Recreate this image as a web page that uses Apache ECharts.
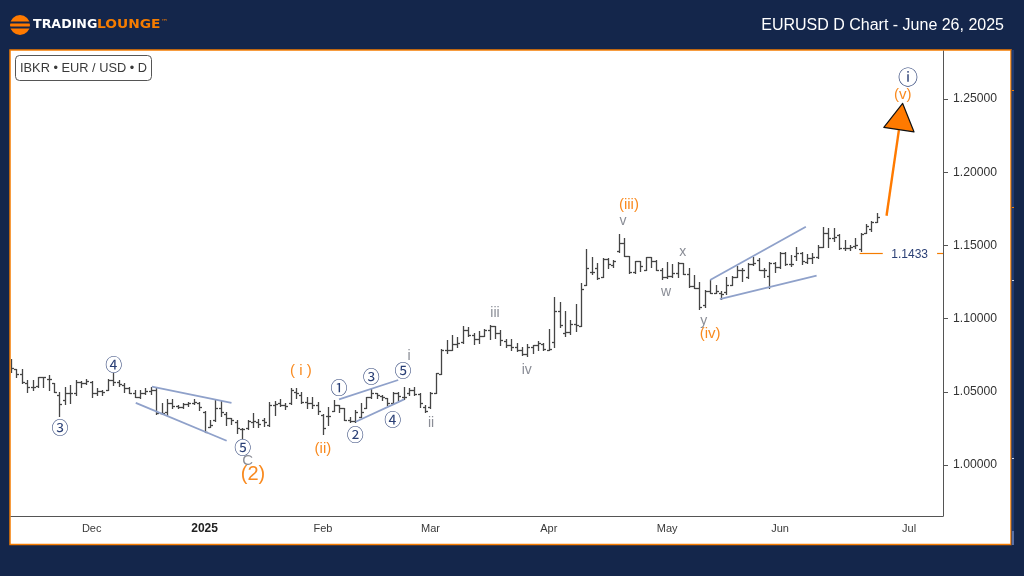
<!DOCTYPE html>
<html><head><meta charset="utf-8">
<style>html,body{margin:0;padding:0;background:#14264b}#c{width:1024px;height:576px}</style>
<script src="https://cdn.jsdelivr.net/npm/echarts@6/dist/echarts.min.js"></script>
</head><body><div id="c"></div>
<script>
const title = 'EURUSD D Chart - June 26, 2025';
const symbolText = 'IBKR • EUR / USD • D';
const yTicks = [1.0, 1.05, 1.1, 1.15, 1.2, 1.25];
const xTickIndex = [15, 36, 58, 78, 100, 122, 143, 167];
const xTickLabels = ['Dec', '2025', 'Feb', 'Mar', 'Apr', 'May', 'Jun', 'Jul'];

const opens = [1.0717,1.0653,1.0621,1.0562,1.0530,1.0539,1.0598,1.0591,1.0557,1.0477,
1.0443,1.0493,1.0493,1.0568,1.0557,1.0568,1.0493,1.0507,1.0516,1.0584,
1.0564,1.0546,1.0523,1.0495,1.0466,1.0493,1.0507,1.0511,1.0353,1.0360,
1.0421,1.0405,1.0398,1.0414,1.0421,1.0421,1.0359,1.0262,1.0307,1.0392,
1.0346,1.0323,1.0291,1.0246,1.0250,1.0296,1.0296,1.0307,1.0273,1.0410,
1.0421,1.0410,1.0421,1.0497,1.0478,1.0432,1.0425,1.0409,1.0341,1.0334,
1.0371,1.0409,1.0387,1.0307,1.0302,1.0330,1.0387,1.0462,1.0489,1.0471,
1.0455,1.0421,1.0494,1.0462,1.0489,1.0512,1.0485,1.0398,1.0398,1.0489,
1.0625,1.0785,1.0789,1.0830,1.0842,1.0921,1.0887,1.0858,1.0880,1.0921,
1.0949,1.0899,1.0848,1.0819,1.0803,1.0789,1.0757,1.0807,1.0819,1.0830,
1.0789,1.0842,1.1054,1.0899,1.0910,1.0962,1.0949,1.1233,1.1320,1.1347,
1.1286,1.1406,1.1365,1.1461,1.1514,1.1429,1.1320,1.1393,1.1331,1.1422,
1.1393,1.1331,1.1286,1.1292,1.1315,1.1377,1.1302,1.1224,1.1210,1.1092,
1.1188,1.1176,1.1172,1.1179,1.1233,1.1286,1.1331,1.1286,1.1370,1.1400,
1.1331,1.1293,1.1377,1.1354,1.1445,1.1370,1.1429,1.1445,1.1388,1.1416,
1.1423,1.1491,1.1582,1.1553,1.1571,1.1484,1.1484,1.1498,1.1475,1.1582,
1.1612,1.1662];
const highs = [1.0721,1.0653,1.0653,1.0584,1.0584,1.0603,1.0603,1.0614,1.0557,1.0500,
1.0534,1.0546,1.0584,1.0575,1.0591,1.0575,1.0523,1.0516,1.0591,1.0630,
1.0580,1.0557,1.0534,1.0516,1.0516,1.0523,1.0534,1.0530,1.0421,1.0451,
1.0451,1.0410,1.0421,1.0433,1.0451,1.0428,1.0369,1.0307,1.0444,1.0437,
1.0360,1.0323,1.0307,1.0255,1.0307,1.0353,1.0314,1.0319,1.0428,1.0437,
1.0451,1.0421,1.0524,1.0528,1.0501,1.0466,1.0466,1.0432,1.0348,1.0398,
1.0444,1.0409,1.0387,1.0325,1.0375,1.0421,1.0466,1.0517,1.0489,1.0478,
1.0455,1.0501,1.0501,1.0530,1.0523,1.0530,1.0489,1.0409,1.0501,1.0628,
1.0792,1.0853,1.0887,1.0876,1.0949,1.0940,1.0899,1.0917,1.0926,1.0956,
1.0949,1.0921,1.0858,1.0864,1.0835,1.0807,1.0826,1.0819,1.0848,1.0835,
1.0926,1.1145,1.1115,1.1054,1.0994,1.1099,1.1243,1.1475,1.1422,1.1377,
1.1411,1.1411,1.1400,1.1575,1.1548,1.1429,1.1393,1.1393,1.1422,1.1422,
1.1400,1.1347,1.1384,1.1370,1.1384,1.1377,1.1347,1.1297,1.1247,1.1194,
1.1263,1.1229,1.1188,1.1286,1.1293,1.1361,1.1343,1.1377,1.1423,1.1411,
1.1343,1.1384,1.1384,1.1452,1.1452,1.1434,1.1491,1.1452,1.1439,1.1445,
1.1502,1.1628,1.1616,1.1616,1.1575,1.1537,1.1502,1.1548,1.1582,1.1644,
1.1667,1.1719];
const lows = [1.0637,1.0603,1.0562,1.0500,1.0516,1.0534,1.0530,1.0511,1.0500,1.0336,
1.0420,1.0425,1.0477,1.0534,1.0552,1.0466,1.0477,1.0477,1.0511,1.0550,
1.0539,1.0500,1.0489,1.0466,1.0461,1.0484,1.0484,1.0352,1.0346,1.0341,
1.0387,1.0392,1.0387,1.0405,1.0414,1.0376,1.0223,1.0262,1.0300,1.0337,
1.0273,1.0278,1.0216,1.0182,1.0246,1.0262,1.0262,1.0268,1.0268,1.0341,
1.0405,1.0382,1.0414,1.0460,1.0421,1.0387,1.0387,1.0352,1.0211,1.0273,
1.0371,1.0364,1.0307,1.0295,1.0295,1.0325,1.0387,1.0455,1.0455,1.0444,
1.0409,1.0416,1.0444,1.0448,1.0478,1.0478,1.0398,1.0364,1.0387,1.0492,
1.0625,1.0766,1.0789,1.0807,1.0835,1.0880,1.0830,1.0835,1.0880,1.0864,
1.0871,1.0819,1.0803,1.0789,1.0780,1.0750,1.0744,1.0766,1.0785,1.0785,
1.0785,1.0807,1.0944,1.0880,1.0894,1.0917,1.0949,1.1233,1.1308,1.1270,
1.1286,1.1343,1.1354,1.1457,1.1429,1.1315,1.1315,1.1324,1.1331,1.1354,
1.1331,1.1274,1.1279,1.1286,1.1286,1.1302,1.1217,1.1206,1.1069,1.1080,
1.1172,1.1172,1.1133,1.1165,1.1233,1.1286,1.1256,1.1279,1.1366,1.1331,
1.1286,1.1211,1.1320,1.1347,1.1366,1.1361,1.1400,1.1370,1.1377,1.1377,
1.1411,1.1491,1.1491,1.1530,1.1475,1.1468,1.1468,1.1484,1.1461,1.1582,
1.1598,1.1662];
const closes = [1.0660,1.0621,1.0568,1.0530,1.0530,1.0598,1.0598,1.0591,1.0500,1.0416,
1.0493,1.0493,1.0568,1.0557,1.0575,1.0493,1.0507,1.0500,1.0584,1.0564,
1.0552,1.0523,1.0495,1.0466,1.0493,1.0507,1.0511,1.0356,1.0353,1.0421,
1.0405,1.0398,1.0414,1.0421,1.0433,1.0398,1.0228,1.0273,1.0392,1.0360,
1.0323,1.0307,1.0250,1.0246,1.0300,1.0300,1.0278,1.0296,1.0410,1.0414,
1.0410,1.0405,1.0512,1.0490,1.0432,1.0425,1.0409,1.0371,1.0250,1.0334,
1.0409,1.0387,1.0311,1.0302,1.0364,1.0364,1.0462,1.0494,1.0478,1.0462,
1.0425,1.0494,1.0471,1.0462,1.0512,1.0485,1.0421,1.0371,1.0489,1.0628,
1.0787,1.0789,1.0830,1.0835,1.0921,1.0887,1.0858,1.0880,1.0921,1.0949,
1.0899,1.0853,1.0819,1.0803,1.0789,1.0757,1.0807,1.0819,1.0835,1.0796,
1.0796,1.1054,1.0956,1.0910,1.0962,1.0956,1.1200,1.1343,1.1320,1.1279,
1.1406,1.1370,1.1393,1.1514,1.1429,1.1320,1.1393,1.1361,1.1422,1.1393,
1.1331,1.1286,1.1292,1.1315,1.1377,1.1302,1.1224,1.1210,1.1080,1.1188,
1.1176,1.1188,1.1165,1.1233,1.1286,1.1331,1.1331,1.1370,1.1377,1.1331,
1.1331,1.1377,1.1354,1.1445,1.1370,1.1370,1.1445,1.1393,1.1416,1.1423,
1.1491,1.1582,1.1553,1.1559,1.1484,1.1480,1.1491,1.1502,1.1575,1.1635,
1.1662,1.1696];

const NAVY = '#2a3f75', ORANGE = '#f98a1f', GREY = '#8a8d96';
// wave labels: text, bar index, price, colour, font size
const waveLabels = [
 ['③', 9.1, 1.0260, NAVY, 17], ['④', 19.1, 1.0690, NAVY, 17], ['⑤', 43.1, 1.0123, NAVY, 17],
 ['C', 44, 1.0034, GREY, 15], ['(2)', 45, 0.9939, ORANGE, 20],
 ['( i )', 53.9, 1.0649, ORANGE, 15], ['(ii)', 58, 1.0116, ORANGE, 15],
 ['①', 61, 1.0533, NAVY, 17], ['②', 64, 1.0212, NAVY, 17], ['③', 67, 1.0608, NAVY, 17],
 ['④', 71, 1.0321, NAVY, 17], ['⑤', 72.9, 1.0649, NAVY, 17],
 ['i', 74, 1.0751, GREY, 14], ['ii', 78.1, 1.0294, GREY, 14], ['iii', 90, 1.1045, GREY, 14], ['iv', 95.9, 1.0656, GREY, 14],
 ['(iii)', 114.9, 1.1783, ORANGE, 15], ['v', 113.8, 1.1673, GREY, 14],
 ['w', 121.8, 1.1188, GREY, 14], ['x', 124.9, 1.1462, GREY, 14], ['y', 128.8, 1.0990, GREY, 14],
 ['(iv)', 130, 1.0902, ORANGE, 15], ['(v)', 165.8, 1.2534, ORANGE, 15], ['ⓘ', 166.8, 1.2657, NAVY, 20]
];
// trend lines: index, price, index, price
const trendLines = [
 [26.2,1.0535,41.0,1.0425],[23.2,1.0425,40.1,1.0166],
 [61,1.0449,72,1.0581],[64.1,1.0296,73.1,1.0449],
 [130,1.1264,147.8,1.1628],[131.8,1.1134,149.8,1.1293]
];
const arrowShaft = [162.8,1.1703,165.1,1.2288];
const arrowHead = [[165.8,1.2470],[162.3,1.2306],[167.9,1.2276]];
const priceLevel = 1.1445, priceLevelText = '1.1433';
const priceSegments = [[157.8,162.1],[172.2,173.3]];
const priceLabelIndex = 167.1;
const FONT = '"Liberation Sans", Arial, sans-serif';
const BAR = '#454545';

const chart = echarts.init(document.getElementById('c'), null, {renderer:'canvas'});
const bars = opens.map((o,i)=>[i,o,highs[i],lows[i],closes[i]]);

chart.setOption({
 animation:false,
 backgroundColor:'#14264b',
 grid:{left:11,right:81,top:51,bottom:60,containLabel:false},
 xAxis:{type:'value',min:0,max:173.3,
  axisLine:{show:true,onZero:false,lineStyle:{color:'#555',width:1}},
  axisTick:{show:false},splitLine:{show:false},
  axisLabel:{customValues:xTickIndex,margin:7,fontFamily:FONT,fontSize:11,color:'#3a3a3a',
   formatter:v=>{const s=xTickLabels[xTickIndex.indexOf(v)];return s==='2025'?'{b|2025}':s;},
   rich:{b:{fontFamily:FONT,fontWeight:'bold',fontSize:12,color:'#222'}}}},
 yAxis:{type:'value',position:'right',min:0.9652,max:1.2828,scale:true,
  axisLine:{show:true,onZero:false,lineStyle:{color:'#555',width:1}},
  axisTick:{show:true,length:5,customValues:yTicks,lineStyle:{color:'#555'}},
  splitLine:{show:false},
  axisLabel:{customValues:yTicks,margin:10,padding:[3,0,0,0],fontFamily:FONT,fontSize:12.2,color:'#333',formatter:v=>v.toFixed(5)}},
 graphic:[
  {type:'rect',z:-5,silent:true,shape:{x:10,y:50,width:1001,height:494.5},style:{fill:'#fff',stroke:'#f57c00',lineWidth:1.5}},
  {type:'rect',z:-5,silent:true,shape:{x:1011.5,y:50,width:2.5,height:495},style:{fill:'#203a70'}},
  {type:'rect',z:-4,silent:true,shape:{x:1012,y:90,width:2,height:1},style:{fill:'#f57c00'}},
  {type:'rect',z:-4,silent:true,shape:{x:1012,y:207,width:2,height:1},style:{fill:'#f57c00'}},
  {type:'rect',z:-4,silent:true,shape:{x:1012,y:280,width:2,height:1},style:{fill:'#cfd6e6'}},
  {type:'rect',z:-4,silent:true,shape:{x:1012,y:458,width:2,height:1},style:{fill:'#cfd6e6'}},
  {type:'rect',z:-4,silent:true,shape:{x:1012,y:531,width:2,height:14},style:{fill:'#5a70a5'}},
  // symbol box
  {type:'rect',z:10,silent:true,shape:{x:15.5,y:55.5,width:136,height:25,r:4},style:{fill:'#fff',stroke:'#555',lineWidth:1}},
  {type:'text',z:11,silent:true,style:{x:20,y:68.5,text:symbolText,font:'12.8px '+FONT,fill:'#3a3a3a',verticalAlign:'middle'}},
  // logo
  {type:'circle',silent:true,shape:{cx:20,cy:25,r:10},style:{fill:'#ff7a00'}},
  {type:'rect',silent:true,shape:{x:9,y:21.5,width:22,height:2},style:{fill:'#14264b'}},
  {type:'rect',silent:true,shape:{x:9,y:26.5,width:22,height:2},style:{fill:'#14264b'}},
  {type:'text',silent:true,x:33,y:25.5,scaleX:1.1,style:{x:0,y:0,text:'TRADING',font:'bold 11.5px "DejaVu Sans"',fill:'#fff',verticalAlign:'middle'}},
  {type:'text',silent:true,x:97,y:25.5,scaleX:1.2,style:{x:0,y:0,text:'LOUNGE',font:'bold 11.5px "DejaVu Sans"',fill:'#f57c00',verticalAlign:'middle'}},
  {type:'text',silent:true,style:{x:161,y:22,text:'™',font:'7px "DejaVu Sans"',fill:'#f57c00',verticalAlign:'middle'}},
  {type:'text',silent:true,style:{x:1004,y:25.5,text:title,font:'16px '+FONT,fill:'#fff',align:'right',verticalAlign:'middle'}}
 ],
 series:[
  {type:'custom',name:'OHLC',coordinateSystem:'cartesian2d',clip:true,silent:true,z:3,
   data:bars,encode:{x:0,y:[1,2,3,4]},
   renderItem:(p,api)=>{
    const i=api.value(0);
    const hp=api.coord([i,api.value(2)]),lp=api.coord([i,api.value(3)]);
    const op=api.coord([i,api.value(1)]),cp=api.coord([i,api.value(4)]);
    const x=Math.round(hp[0])+.5, oy=Math.round(op[1])+.5, cy=Math.round(cp[1])+.5;
    const st={stroke:BAR,lineWidth:1.3};
    return {type:'group',children:[
     {type:'line',shape:{x1:x,y1:Math.round(hp[1]),x2:x,y2:Math.round(lp[1])+1},style:st},
     {type:'line',shape:{x1:x-2.5,y1:oy,x2:x,y2:oy},style:st},
     {type:'line',shape:{x1:x,y1:cy,x2:x+2.5,y2:cy},style:st}
    ]};
   }},
  {type:'custom',name:'Trend lines',coordinateSystem:'cartesian2d',silent:true,z:4,
   data:trendLines,encode:{x:[0,2],y:[1,3]},
   renderItem:(p,api)=>{
    const a=api.coord([api.value(0),api.value(1)]),b=api.coord([api.value(2),api.value(3)]);
    return {type:'line',shape:{x1:a[0],y1:a[1],x2:b[0],y2:b[1]},style:{stroke:'#8fa1ca',lineWidth:1.8}};
   }},
  {type:'custom',name:'Price level',coordinateSystem:'cartesian2d',silent:true,z:4,
   data:priceSegments,encode:{x:[0,1]},
   renderItem:(p,api)=>{
    const a=api.coord([api.value(0),priceLevel]),b=api.coord([api.value(1),priceLevel]);
    const y=Math.round(a[1])+.5;
    const kids=[{type:'rect',shape:{x:a[0],y:y-.6,width:b[0]-a[0],height:1.2},style:{fill:'#f57c00'}}];
    if(p.dataIndex===0){const c=api.coord([priceLabelIndex,priceLevel]);
     kids.push({type:'text',style:{x:c[0],y:y+1,text:priceLevelText,font:'12px '+FONT,fill:NAVY,align:'center',verticalAlign:'middle'}});}
    return {type:'group',children:kids};
   }},
  {type:'custom',name:'Forecast arrow',coordinateSystem:'cartesian2d',silent:true,z:5,
   data:[arrowShaft],encode:{x:[0,2],y:[1,3]},
   renderItem:(p,api)=>{
    const a=api.coord([arrowShaft[0],arrowShaft[1]]),b=api.coord([arrowShaft[2],arrowShaft[3]]);
    return {type:'group',children:[
     {type:'line',shape:{x1:a[0],y1:a[1],x2:b[0],y2:b[1]},style:{stroke:'#ff7a00',lineWidth:2.4}},
     {type:'polygon',shape:{points:arrowHead.map(q=>api.coord(q))},style:{fill:'#ff7a00',stroke:'#111',lineWidth:1.2,lineJoin:'round'}}
    ]};
   }},
  {type:'custom',name:'Wave labels',coordinateSystem:'cartesian2d',silent:true,z:6,
   data:waveLabels.map(w=>[w[1],w[2]]),encode:{x:0,y:1},
   renderItem:(p,api)=>{
    const w=waveLabels[p.dataIndex],c=api.coord([api.value(0),api.value(1)]);
    const fam=(w[3]===NAVY)?'"Noto Sans CJK JP"':FONT;
    return {type:'text',style:{x:c[0],y:c[1]+1,text:w[0],font:w[4]+'px '+fam,fill:w[3],align:'center',verticalAlign:'middle'}};
   }}
 ]
});
</script></body></html>
